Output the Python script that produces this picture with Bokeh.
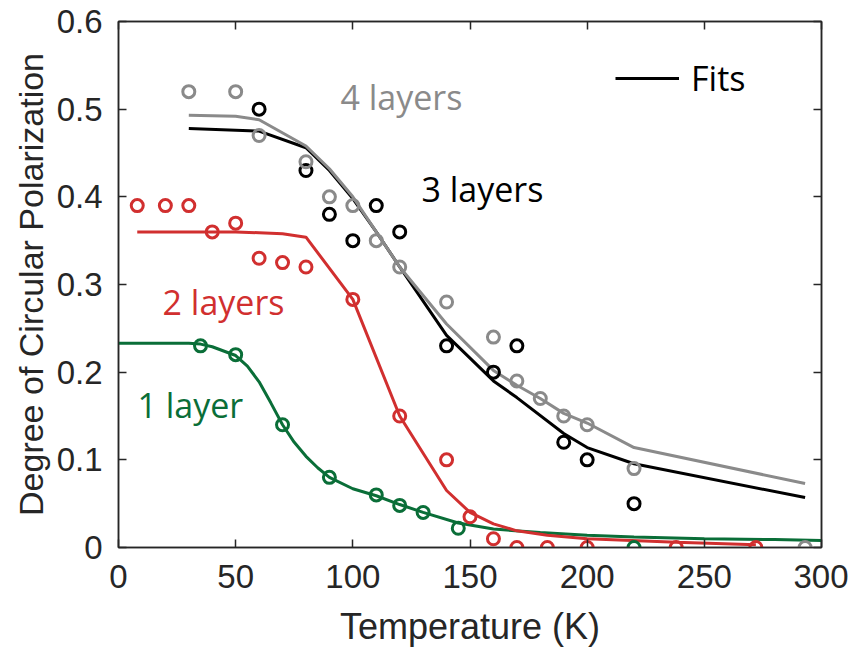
from bokeh.plotting import figure
from bokeh.models import Range1d, FixedTicker, LinearAxis, Legend, LegendItem, Label, CustomJSTickFormatter
from bokeh.embed import file_html
from bokeh.resources import INLINE

# ---------------- data ----------------
x_ticks = [0, 50, 100, 150, 200, 250, 300]
x_tick_labels = ["0", "50", "100", "150", "200", "250", "300"]
y_ticks = [0, 0.1, 0.2, 0.3, 0.4, 0.5, 0.6]
y_tick_labels = ["0", "0.1", "0.2", "0.3", "0.4", "0.5", "0.6"]

# measured points (open circles)
T_4L = [30, 50, 60, 80, 90, 100, 110, 120, 140, 160, 170, 180, 190, 200, 220, 293]
P_4L = [0.52, 0.52, 0.47, 0.44, 0.40, 0.39, 0.35, 0.32, 0.28, 0.24, 0.19, 0.17, 0.15, 0.14, 0.09, 0.0]

T_3L = [60, 80, 90, 100, 110, 120, 140, 160, 170, 190, 200, 220]
P_3L = [0.50, 0.43, 0.38, 0.35, 0.39, 0.36, 0.23, 0.20, 0.23, 0.12, 0.10, 0.05]

T_2L = [8, 20, 30, 40, 50, 60, 70, 80, 100, 120, 140, 150, 160, 170, 183, 200, 238, 272]
P_2L = [0.39, 0.39, 0.39, 0.36, 0.37, 0.33, 0.325, 0.32, 0.283, 0.15, 0.10, 0.035, 0.01, 0.0, 0.0, 0.0, 0.0, 0.0]

T_1L = [35, 50, 70, 90, 110, 120, 130, 145, 220]
P_1L = [0.23, 0.22, 0.14, 0.08, 0.06, 0.048, 0.04, 0.022, 0.0]

# fits (lines)
FT_4L = [30, 50, 60, 80, 90, 100, 110, 120, 140, 160, 170, 180, 190, 200, 220, 293]
FP_4L = [0.493, 0.492, 0.488, 0.458, 0.432, 0.400, 0.360, 0.320, 0.255, 0.202, 0.185, 0.170, 0.153, 0.142, 0.114, 0.073]

FT_3L = [30, 60, 80, 90, 100, 110, 120, 140, 160, 170, 190, 200, 220, 293]
FP_3L = [0.478, 0.475, 0.456, 0.430, 0.398, 0.360, 0.320, 0.242, 0.190, 0.171, 0.130, 0.114, 0.0955, 0.057]

FT_2L = [8, 20, 30, 40, 50, 60, 70, 80, 100, 120, 140, 150, 160, 170, 183, 200, 238, 272]
FP_2L = [0.360, 0.360, 0.360, 0.360, 0.360, 0.359, 0.358, 0.354, 0.283, 0.150, 0.065, 0.040, 0.027, 0.019, 0.014, 0.010, 0.006, 0.003]

FT_1L = [0, 10, 20, 30, 35, 40, 50, 55, 60, 65, 70, 75, 80, 85, 90, 100, 110, 120, 130, 145, 160, 180, 200, 220, 250, 280, 300]
FP_1L = [0.233, 0.233, 0.233, 0.233, 0.232, 0.229, 0.219, 0.207, 0.189, 0.165, 0.140, 0.120, 0.104, 0.091, 0.080, 0.067, 0.059, 0.049, 0.040, 0.028, 0.021, 0.017, 0.014, 0.012, 0.010, 0.009, 0.008]

series_labels = ["4 layers", "3 layers", "2 layers", "1 layer"]
label_pos = [(94.7, 0.514), (129.3, 0.409), (18.8, 0.280), (8.1, 0.163)]
legend_label = "Fits"

# ---------------- styles ----------------
GRAY = "#8a8a8a"
BLACK = "#000000"
RED = "#d12f2f"
GREEN = "#0a6e38"
AXC = "#262626"
TICK_FONT = "Liberation Sans"
ANN_FONT = "Open Sans"

p = figure(frame_width=703, frame_height=526, output_backend="svg", toolbar_location=None,
           x_range=Range1d(0, 300), y_range=Range1d(0, 0.6),
           min_border_left=118, min_border_right=27, min_border_top=21, min_border_bottom=106)
p.background_fill_color = "white"
p.border_fill_color = "white"
p.grid.visible = False
p.outline_line_color = AXC
p.outline_line_width = 1.5

for ax in (p.xaxis[0], p.yaxis[0]):
    ax.major_tick_in = 8
    ax.major_tick_out = 0
    ax.minor_tick_in = 0
    ax.minor_tick_out = 0
    ax.axis_line_color = AXC
    ax.axis_line_width = 1.5
    ax.major_tick_line_color = AXC
    ax.major_tick_line_width = 1.5
    ax.major_label_text_font = TICK_FONT
    ax.major_label_text_font_size = "33px"
    ax.major_label_text_color = AXC
    ax.axis_label_text_font = TICK_FONT
    ax.axis_label_text_font_style = "normal"
    ax.axis_label_text_color = AXC

p.xaxis[0].ticker = FixedTicker(ticks=x_ticks)
p.xaxis[0].major_label_overrides = {t: s for t, s in zip(x_ticks, x_tick_labels)}
p.yaxis[0].ticker = FixedTicker(ticks=y_ticks)
p.yaxis[0].major_label_overrides = {t: s for t, s in zip(y_ticks, y_tick_labels)}
p.xaxis[0].axis_label = "Temperature (K)"
p.yaxis[0].axis_label = "Degree of Circular Polarization"
p.xaxis[0].axis_label_text_font_size = "36px"
p.yaxis[0].axis_label_text_font_size = "34px"
p.xaxis[0].major_label_standoff = 17
p.yaxis[0].major_label_standoff = 16
p.xaxis[0].axis_label_standoff = 15
p.yaxis[0].axis_label_standoff = 4

# box ticks on top and right (no labels)
blank = CustomJSTickFormatter(code="return ''")
top = LinearAxis(ticker=FixedTicker(ticks=x_ticks), formatter=blank, major_tick_in=8, major_tick_out=0,
                 minor_tick_in=0, minor_tick_out=0, major_label_standoff=0,
                 axis_line_color=AXC, axis_line_width=1.5,
                 major_tick_line_color=AXC, major_tick_line_width=1.5)
right = LinearAxis(ticker=FixedTicker(ticks=y_ticks), formatter=blank, major_tick_in=8, major_tick_out=0,
                   minor_tick_in=0, minor_tick_out=0, major_label_standoff=0,
                   axis_line_color=AXC, axis_line_width=1.5,
                   major_tick_line_color=AXC, major_tick_line_width=1.5)
p.add_layout(top, "above")
p.add_layout(right, "right")

LW = 3
MS = 12
MLW = 3

r1 = p.line(FT_1L, FP_1L, line_color=GREEN, line_width=LW)
r2 = p.line(FT_2L, FP_2L, line_color=RED, line_width=LW)
r3 = p.line(FT_3L, FP_3L, line_color=BLACK, line_width=LW)
r4 = p.line(FT_4L, FP_4L, line_color=GRAY, line_width=LW)

p.scatter(T_1L, P_1L, marker="circle", size=MS, fill_color=None, line_color=GREEN, line_width=MLW)
p.scatter(T_2L, P_2L, marker="circle", size=MS, fill_color=None, line_color=RED, line_width=MLW)
p.scatter(T_3L, P_3L, marker="circle", size=MS, fill_color=None, line_color=BLACK, line_width=MLW)
p.scatter(T_4L, P_4L, marker="circle", size=MS, fill_color=None, line_color=GRAY, line_width=MLW)

for txt, (lx, ly), col in zip(series_labels, label_pos, [GRAY, BLACK, RED, GREEN]):
    p.add_layout(Label(x=lx, y=ly, text=txt, text_color=col, text_font=ANN_FONT,
                       text_font_size="34px", text_baseline="alphabetic", text_align="left"))

legend = Legend(items=[LegendItem(label=legend_label, renderers=[r3])],
                location=(497, 446), orientation="vertical",
                label_text_font=ANN_FONT, label_text_font_size="34px", label_text_color=BLACK,
                glyph_width=64, glyph_height=30, label_standoff=12, padding=0, margin=0, spacing=0,
                border_line_alpha=0, background_fill_alpha=0)
p.add_layout(legend, "center")

open("out.html", "w").write(file_html(p, INLINE))
